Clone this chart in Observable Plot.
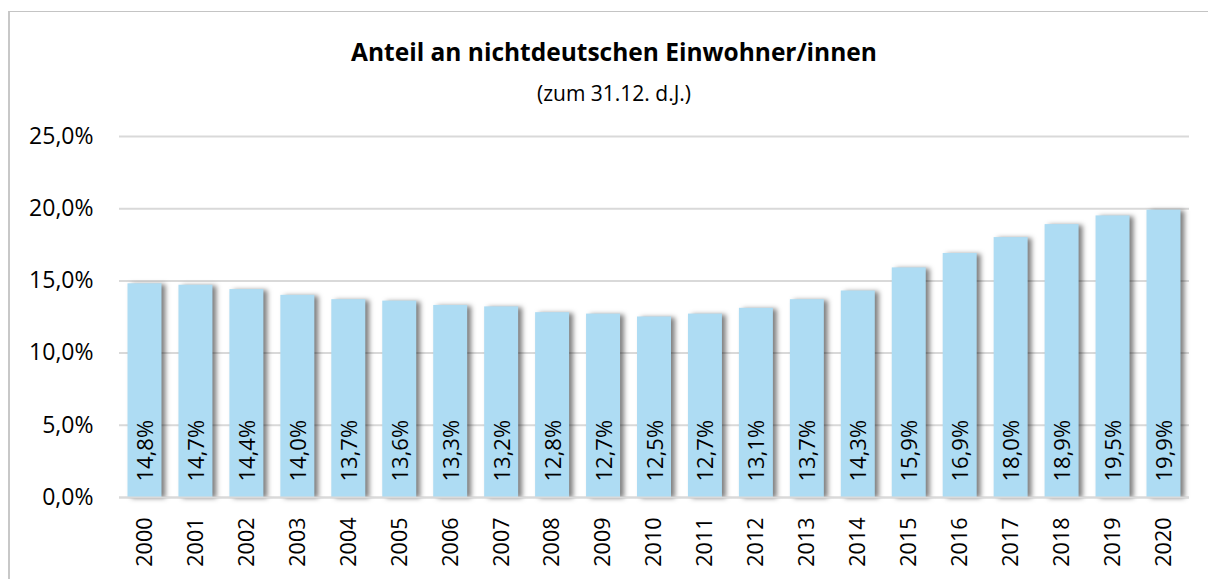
<!DOCTYPE html>
<html>
<head>
<meta charset="utf-8">
<script src="https://cdn.jsdelivr.net/npm/d3@7"></script>
<script src="https://cdn.jsdelivr.net/npm/@observablehq/plot@0.6"></script>
<style>
  html, body { margin: 0; padding: 0; background: #fff; width: 1208px; height: 579px; overflow: hidden; }
  body { position: relative; font-family: "Open Sans", sans-serif; color: #000; }
  #frame { position: absolute; left: 8px; top: 11px; width: 1220px; height: 600px; border-top: 1px solid #c4c4c4; border-left: 2px solid #c8c8c8; box-sizing: border-box; }
  #title { position: absolute; left: 0; width: 1228px; top: 36px; text-align: center; font-size: 24.5px; font-weight: bold; line-height: 32px; }
  #subtitle { position: absolute; left: 0; width: 1228px; top: 79px; text-align: center; font-size: 21px; line-height: 28px; }
  #chart { position: absolute; left: 0; top: 100px; }
</style>
</head>
<body>
<div id="frame"></div>
<div id="title">Anteil an nichtdeutschen Einwohner/innen</div>
<div id="subtitle">(zum 31.12. d.J.)</div>
<div id="chart"></div>
<script>
const years = ["2000","2001","2002","2003","2004","2005","2006","2007","2008","2009","2010","2011","2012","2013","2014","2015","2016","2017","2018","2019","2020"];
const shares = [14.8,14.7,14.4,14.0,13.7,13.6,13.3,13.2,12.8,12.7,12.5,12.7,13.1,13.7,14.3,15.9,16.9,18.0,18.9,19.5,19.9];
const yTicks = [0, 5, 10, 15, 20, 25];

const data = years.map((y, i) => ({year: y, share: shares[i]}));
const de = d3.formatLocale({decimal: ",", thousands: ".", grouping: [3], currency: ["", " €"]});
const fmt = de.format(".1f");
const pct = v => fmt(v) + "%";

const chart = Plot.plot({
  width: 1208,
  height: 479,
  marginTop: 36,
  marginBottom: 82,
  marginLeft: 119,
  marginRight: 19,
  style: {fontFamily: "Open Sans, sans-serif", fontSize: "22px", color: "#000", background: "transparent"},
  x: {domain: years, paddingInner: 0.333, paddingOuter: 0.167, round: false, label: null},
  y: {domain: [0, 25], label: null},
  marks: [
    Plot.gridY(yTicks, {stroke: "#d9d9d9", strokeOpacity: 1, strokeWidth: 2}),
    Plot.barY(data, {x: "year", y: "share", fill: "#aedcf3",
      imageFilter: "drop-shadow(4px 1px 2.5px rgba(0,0,0,0.5))"}),
    Plot.ruleY([0], {stroke: "#d9d9d9", strokeWidth: 2}),
    Plot.text(data, {x: "year", y: 0, text: d => pct(d.share), rotate: -90, textAnchor: "start",
      dy: -16, dx: 1, fontSize: 22, fill: "#000"}),
    Plot.axisY(yTicks, {tickFormat: pct, tickSize: 0, tickPadding: 26, fontSize: 23, fill: "#000"}),
    Plot.axisX({tickSize: 0, tickPadding: 20, tickRotate: -90, fontSize: 21.5, fill: "#000"})
  ]
});
document.getElementById("chart").appendChild(chart);
</script>
</body>
</html>
